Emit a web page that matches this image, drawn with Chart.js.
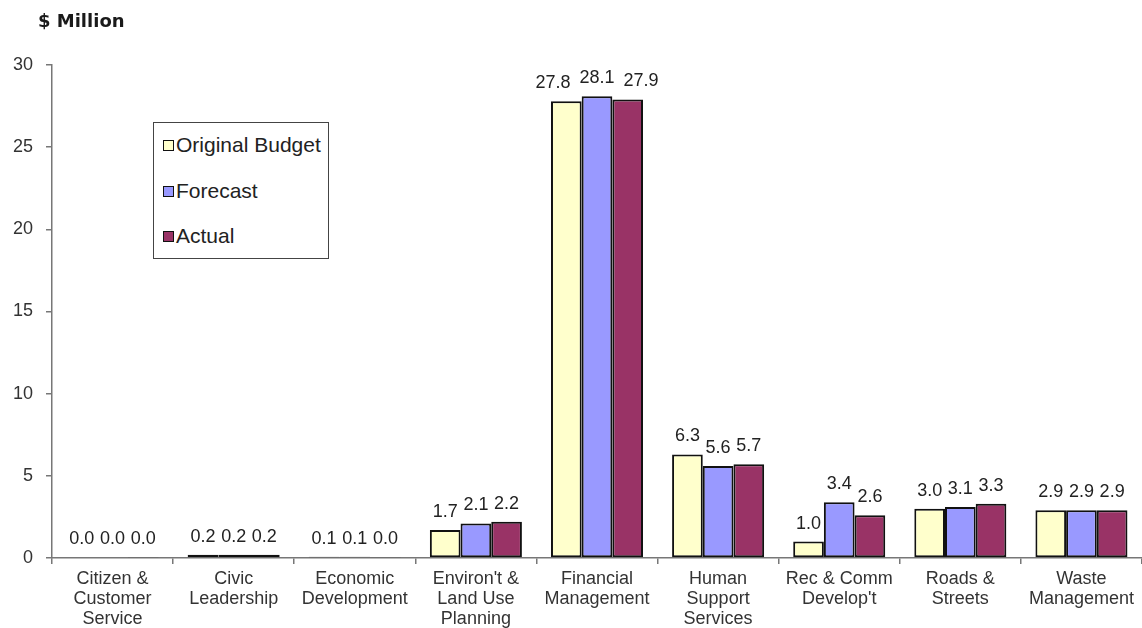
<!DOCTYPE html>
<html>
<head>
<meta charset="utf-8">
<script src="https://cdn.jsdelivr.net/npm/chart.js@4.4.1/dist/chart.umd.min.js"></script>
<style>
  html, body { margin: 0; padding: 0; background: #fff; }
  #wrap { position: relative; width: 1142px; height: 628px; font-family: "Liberation Sans", Arial, sans-serif; }
  #c { position: absolute; left: 0; top: 0; }
  #title { position: absolute; left: 38px; top: 10px; font-size: 18px; font-weight: bold; color: #1a1a1a; font-family: "DejaVu Sans", sans-serif; }
  #legend { position: absolute; left: 153px; top: 122px; width: 174px; height: 135px; border: 1.5px solid #444; background: #fff; }
  .item { position: absolute; left: 9px; font-size: 21px; color: #222; line-height: 22px; white-space: nowrap; }
  .sw { display: inline-block; width: 9px; height: 9px; border: 1.5px solid #111; margin-right: 2px; vertical-align: 1px; }
</style>
</head>
<body>
<div id="wrap">
  <canvas id="c" width="1142" height="628"></canvas>
  <div id="title">$ Million</div>
  <div id="legend"></div>
</div>
<script>
const categories = [
  ["Citizen &", "Customer", "Service"],
  ["Civic", "Leadership"],
  ["Economic", "Development"],
  ["Environ't &", "Land Use", "Planning"],
  ["Financial", "Management"],
  ["Human", "Support", "Services"],
  ["Rec & Comm", "Develop't"],
  ["Roads &", "Streets"],
  ["Waste", "Management"]
];
const seriesNames = ["Original Budget", "Forecast", "Actual"];
const originalBudget = [0.04, 0.2, 0.08, 1.7, 27.8, 6.3, 1.0, 3.0, 2.9];
const forecast       = [0.04, 0.2, 0.07, 2.1, 28.1, 5.6, 3.4, 3.1, 2.9];
const actual         = [0.03, 0.2, 0.03, 2.2, 27.9, 5.7, 2.6, 3.3, 2.9];
const yTicks = [0, 5, 10, 15, 20, 25, 30];
const colors = ["#FFFFCC", "#9999FF", "#993366"];

const legendEl = document.getElementById('legend');
[originalBudget, forecast, actual].forEach((_, i) => {
  const d = document.createElement('div');
  d.className = 'item';
  d.style.top = (11 + i * 45.5) + 'px';
  d.innerHTML = '<span class="sw" style="background:' + colors[i] + '"></span>' + seriesNames[i];
  legendEl.appendChild(d);
});

const valueLabels = {
  id: 'valueLabels',
  afterDatasetsDraw(chart) {
    const ctx = chart.ctx;
    ctx.save();
    ctx.font = '18px "Liberation Sans", Arial, sans-serif';
    ctx.fillStyle = '#222';
    ctx.textAlign = 'center';
    ctx.textBaseline = 'bottom';
    const nDs = chart.data.datasets.length;
    const nCat = chart.data.labels.length;
    for (let i = 0; i < nCat; i++) {
      const items = [];
      for (let di = 0; di < nDs; di++) {
        const el = chart.getDatasetMeta(di).data[i];
        const txt = chart.data.datasets[di].data[i].toFixed(1);
        items.push({ txt, x: el.x, y: el.y - 9, w: ctx.measureText(txt).width });
      }
      // push apart labels that would overlap (same row)
      for (let iter = 0; iter < 3; iter++) {
        for (let k = 0; k < items.length - 1; k++) {
          const a = items[k], b = items[k + 1];
          if (Math.abs(a.y - b.y) > 14) continue;
          const need = (a.w + b.w) / 2;
          const d = b.x - a.x;
          if (d < need + 3) {
            const target = need + 9;
            const shift = (target - d) / 2;
            a.x -= shift; b.x += shift;
            if (items.length === 3 && k === 0) { /* keep middle steady */ b.x -= shift; a.x -= shift; }
            if (items.length === 3 && k === 1) { a.x += shift; b.x += shift; }
          }
        }
      }
      items.forEach(it => ctx.fillText(it.txt, it.x, it.y));
    }
    ctx.restore();
  }
};

new Chart(document.getElementById('c'), {
  type: 'bar',
  data: {
    labels: categories,
    datasets: [originalBudget, forecast, actual].map((d, i) => ({
      label: seriesNames[i],
      data: d,
      backgroundColor: colors[i],
      borderColor: '#111',
      borderWidth: 2,
      borderSkipped: false,
      categoryPercentage: 0.76,
      barPercentage: 1.0
    }))
  },
  options: {
    responsive: false,
    animation: false,
    devicePixelRatio: 1,
    layout: { padding: { top: 65, right: 0, left: 0, bottom: 0 } },
    plugins: { legend: { display: false }, tooltip: { enabled: false } },
    scales: {
      x: {
        grid: { display: true, drawOnChartArea: false, drawTicks: true, tickLength: 6, color: '#777', offset: true, lineWidth: 1.5 },
        border: { display: true, color: '#777', width: 1.5 },
        ticks: { color: '#333', font: { size: 18, family: '"Liberation Sans", Arial, sans-serif', lineHeight: 1.11 }, padding: 5, maxRotation: 0, autoSkip: false },
        afterFit(scale) { scale.height = 70; }
      },
      y: {
        min: 0, max: 30,
        afterBuildTicks(scale) { scale.ticks = yTicks.map(v => ({ value: v })); },
        grid: { display: true, drawOnChartArea: false, drawTicks: true, tickLength: 6, color: '#777', lineWidth: 1.5 },
        border: { display: true, color: '#777', width: 1.5 },
        ticks: { color: '#333', font: { size: 18, family: '"Liberation Sans", Arial, sans-serif' }, padding: 13 },
        afterFit(scale) { scale.width = 52; }
      }
    }
  },
  plugins: [valueLabels]
});
</script>
</body>
</html>
